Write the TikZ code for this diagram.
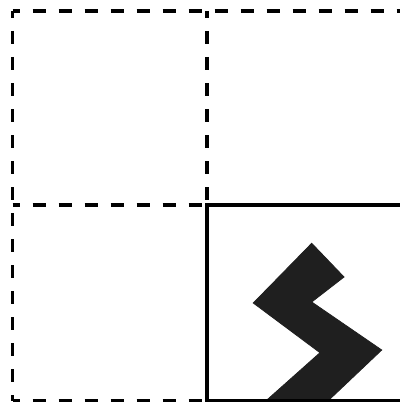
\documentclass[tikz,border=0pt]{standalone}
\begin{document}
\begin{tikzpicture}[x=1pt,y=-1pt,
  gridline/.style={line width=3.6pt,dash pattern=on 13pt off 13pt,dash phase=6pt},
  solidline/.style={line width=3.4pt},
  zigzag/.style={fill=black!88,draw=black!88,line width=0.8pt,line join=miter}]
\useasboundingbox (0,0) rectangle (399,404);
\fill[white] (0,0) rectangle (399,404);
% grid coordinates
\coordinate (tl) at (12.5,11);
\coordinate (tm) at (207,11);
\coordinate (tr) at (404,11);
\coordinate (ml) at (12.5,205);
\coordinate (mm) at (207,205);
\coordinate (mr) at (404,205);
\coordinate (bl) at (12.5,400.5);
\coordinate (bm) at (207,400.5);
\coordinate (br) at (404,400.5);
% dashed lines
\draw[gridline] (tl) -- (tr);
\draw[gridline] (tl) -- (bl);
\draw[gridline] (bl) -- (bm);
\draw[gridline] (tm) -- (mm);
\draw[gridline] (ml) -- (mm);
% zigzag shape
\begin{scope}
\clip (mm) rectangle (br);
\fill[zigzag] (311.7,243.3) -- (344,277) -- (311.7,302) -- (381.7,350)
  -- (330,399) -- (268,399) -- (320,352.7) -- (253.3,303) -- cycle;
\end{scope}
% solid cell
\draw[solidline] (mm) rectangle (br);
\end{tikzpicture}
\end{document}
